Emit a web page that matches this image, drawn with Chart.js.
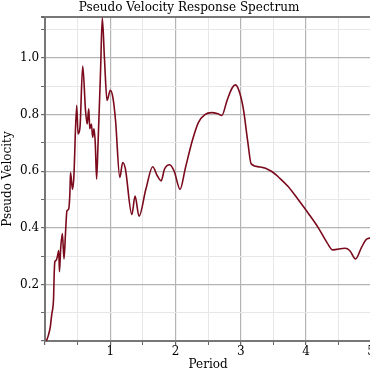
<!DOCTYPE html>
<html>
<head>
<meta charset="utf-8">
<script src="https://cdn.jsdelivr.net/npm/chart.js@4/dist/chart.umd.min.js"></script>
<style>
  html, body { margin: 0; padding: 0; background: #fff; overflow: hidden; }
  #wrap { width: 376px; height: 370px; position: relative; }
</style>
</head>
<body>
<div id="wrap"><canvas id="spectrum"></canvas></div>
<script>
// period (s) and pseudo velocity
var periods = [
    0.02, 0.05, 0.08, 0.10, 0.12, 0.13, 0.14, 0.15, 0.17, 0.19,
    0.21, 0.22, 0.24, 0.265, 0.29, 0.315, 0.335, 0.36, 0.38, 0.39,
    0.42, 0.44, 0.485, 0.505, 0.535, 0.577, 0.62, 0.645, 0.67, 0.685,
    0.71, 0.73, 0.75, 0.77, 0.79, 0.81, 0.85, 0.877, 0.91, 0.95,
    1.0, 1.04, 1.08, 1.146, 1.19, 1.23, 1.33, 1.38, 1.44, 1.545,
    1.65, 1.72, 1.78, 1.83, 1.91, 1.98, 2.07, 2.15, 2.26, 2.35,
    2.45, 2.55, 2.65, 2.71, 2.79, 2.87, 2.92, 2.98, 3.04, 3.11,
    3.16, 3.3, 3.47, 3.6, 3.73, 3.88, 4.04, 4.19, 4.33, 4.41,
    4.6, 4.67, 4.76, 4.85, 4.93, 5.0
];
var velocities = [
    0.0, 0.02, 0.05, 0.09, 0.12, 0.15, 0.24, 0.28, 0.285, 0.30,
    0.32, 0.245, 0.33, 0.38, 0.29, 0.39, 0.46, 0.465, 0.52, 0.595,
    0.536, 0.575, 0.833, 0.732, 0.755, 0.972, 0.815, 0.767, 0.821, 0.75,
    0.767, 0.72, 0.75, 0.696, 0.572, 0.684, 0.95, 1.141, 1.0, 0.85,
    0.886, 0.86, 0.78, 0.578, 0.631, 0.61, 0.447, 0.512, 0.441, 0.536,
    0.616, 0.584, 0.566, 0.607, 0.623, 0.6, 0.536, 0.61, 0.71, 0.772,
    0.8, 0.807, 0.803, 0.797, 0.85, 0.895, 0.905, 0.88, 0.82, 0.7,
    0.626, 0.615, 0.60, 0.575, 0.545, 0.5, 0.45, 0.4, 0.345, 0.322,
    0.328, 0.32, 0.29, 0.33, 0.36, 0.364
];

var xMin = 0, xMax = 5;
var yMin = 0, yMax = 1.145;

var points = periods.map(function (p, i) {
    return { x: p, y: velocities[i] };
});

var serif = 'DejaVu Serif';

function isMajorY(v) { return Math.abs(v * 5 - Math.round(v * 5)) < 1e-6; }
function isMajorX(v) { return Math.abs(v - Math.round(v)) < 1e-6; }

var ctx = document.getElementById('spectrum').getContext('2d');

var myChart = new Chart(ctx, {
    type: 'line',
    data: {
        datasets: [{
            data: points,
            borderColor: '#7a0a1c',
            borderWidth: 1.6,
            pointRadius: 0,
            fill: false,
            cubicInterpolationMode: 'monotone'
        }]
    },
    options: {
        responsive: true,
        maintainAspectRatio: false,
        animation: false,
        layout: { padding: { left: 2, right: 0, top: 0, bottom: -1 } },
        plugins: {
            legend: { display: false },
            tooltip: { enabled: false },
            title: {
                display: true,
                text: 'Pseudo Velocity Response Spectrum',
                color: '#000',
                font: { family: serif, size: 12, weight: 'normal', lineHeight: 1 },
                padding: { top: 2, bottom: 3 }
            }
        },
        scales: {
            x: {
                type: 'linear',
                min: xMin,
                max: xMax,
                title: {
                    display: true,
                    text: 'Period',
                    color: '#000',
                    font: { family: serif, size: 12, lineHeight: 1 },
                    padding: { top: 0, bottom: 0 }
                },
                ticks: {
                    stepSize: 0.5,
                    autoSkip: false,
                    maxRotation: 0,
                    color: '#000',
                    padding: 1,
                    font: { family: serif, size: 12, lineHeight: 1 },
                    callback: function (v) {
                        return (isMajorX(v) && v > 0) ? String(Math.round(v)) : '';
                    }
                },
                grid: {
                    color: function (c) {
                        return isMajorX(c.tick.value) ? '#b4b4b4' : '#e8e6e7';
                    },
                    tickColor: '#666',
                    tickLength: 4,
                    lineWidth: function (c) { return isMajorX(c.tick.value) ? 1.2 : 1; }
                },
                border: { color: '#777', width: 2 }
            },
            y: {
                type: 'linear',
                min: yMin,
                max: yMax,
                title: {
                    display: true,
                    text: 'Pseudo Velocity',
                    color: '#000',
                    font: { family: serif, size: 12, lineHeight: 1 },
                    padding: { top: 0, bottom: 4 }
                },
                ticks: {
                    stepSize: 0.1,
                    autoSkip: false,
                    color: '#000',
                    padding: 2,
                    font: { family: serif, size: 12, lineHeight: 1 },
                    callback: function (v) {
                        if (v <= 0 || v > 1.05) return '';
                        return isMajorY(v) ? v.toFixed(1) : '';
                    }
                },
                grid: {
                    color: function (c) {
                        var v = c.tick.value;
                        if (Math.abs(v - yMax) < 1e-6) return '#777';
                        return isMajorY(v) ? '#b4b4b4' : '#e8e6e7';
                    },
                    lineWidth: function (c) {
                        var v = c.tick.value;
                        if (Math.abs(v - yMax) < 1e-6) return 2;
                        return isMajorY(v) ? 1.2 : 1;
                    },
                    tickColor: '#666',
                    tickLength: 4
                },
                border: { color: '#777', width: 2 }
            }
        }
    }
});
</script>
</body>
</html>
